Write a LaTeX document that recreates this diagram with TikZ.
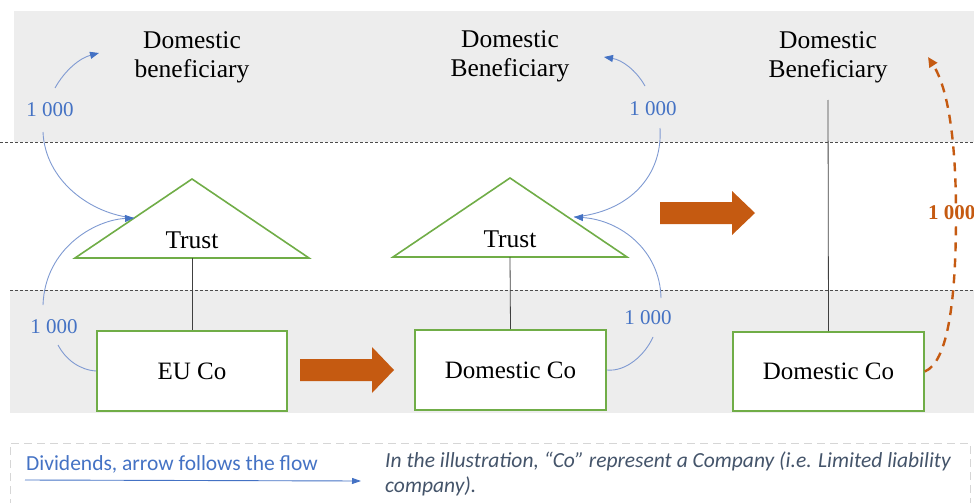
\documentclass[tikz,border=0pt]{standalone}
\usepackage{fontspec}
\setmainfont{Liberation Serif}
\newfontfamily\legendfont{Carlito}
\usetikzlibrary{arrows.meta}
\definecolor{bandgray}{HTML}{EDEDED}
\definecolor{boxgreen}{HTML}{70AD47}
\definecolor{flowblue}{HTML}{4472C4}
\definecolor{curveblue}{HTML}{7F9AD2}
\definecolor{shiftorange}{HTML}{C55A11}
\definecolor{notegray}{HTML}{44546A}
\definecolor{legendgray}{HTML}{D6D6D6}
\tikzset{
  entity/.style={draw=boxgreen,line width=1.6pt,fill=white,minimum width=190pt,minimum height=80pt,
    font=\fontsize{25}{28}\selectfont,inner sep=0pt},
  trustshape/.style={draw=boxgreen,line width=1.6pt,fill=white,line join=miter},
  partylabel/.style={font=\fontsize{25.5}{29}\selectfont,align=center,inner sep=0pt},
  amount/.style={font=\fontsize{21}{24}\selectfont,text=flowblue,inner sep=1pt},
  owner/.style={draw=black!75,line width=0.8pt},
  dividend/.style={draw=curveblue,line width=0.9pt},
  dividendtip/.style={dividend,-{Triangle[length=9pt,width=7pt,color=flowblue]}},
  shiftarrow/.style={fill=shiftorange,draw=none},
  redirect/.style={draw=shiftorange,line width=2.4pt,dash pattern=on 9pt off 7pt,
    -{Triangle[length=10pt,width=9pt]}},
}
\begin{document}
\begin{tikzpicture}[x=1pt,y=-1pt]
\useasboundingbox (0,0) rectangle (974,503);
\clip (0,0) rectangle (974,503);

% horizontal bands
\fill[bandgray] (14,11) rectangle (974,142);
\fill[bandgray] (10,290) rectangle (974,413);
\draw[black!70,line width=0.8pt,dash pattern=on 3pt off 2pt] (0,142) -- (974,142);
\draw[black!70,line width=0.8pt,dash pattern=on 3pt off 2pt] (10,290) -- (974,290);

% beneficiaries
\node[partylabel] (ben1) at (192,57) {Domestic\\beneficiary};
\node[partylabel] (ben2) at (510,56) {Domestic\\Beneficiary};
\node[partylabel] (ben3) at (828,57) {Domestic\\Beneficiary};

% trusts
\draw[trustshape] (75,258) -- (192,179) -- (309,258) -- cycle;
\draw[trustshape] (393,257) -- (510,178) -- (627,257) -- cycle;
\node[partylabel] (trust1) at (192,240) {Trust};
\node[partylabel] (trust2) at (510,239) {Trust};
\coordinate (trust1base) at (192,258);
\coordinate (trust2base) at (510,257);

% companies
\node[entity] (euco) at (192,371) {EU Co};
\node[entity,minimum width=191pt] (domco1) at (510.5,370) {Domestic Co};
\node[entity,minimum width=191pt,minimum height=79pt] (domco2) at (828.5,371.5) {Domestic Co};

% ownership lines
\draw[owner] (trust1base) -- (euco.north);
\draw[owner] (trust2base) -- (domco1.north);
\coordinate (ben3foot) at (828,100);
\draw[owner] (ben3foot) -- (domco2.north);

% restructuring arrows
\path[shiftarrow] (300,359) -- (372,359) -- (372,347) -- (394,370) -- (372,393) -- (372,381) -- (300,381) -- cycle;
\path[shiftarrow] (660,202) -- (732,202) -- (732,191) -- (755,213) -- (732,235) -- (732,224) -- (660,224) -- cycle;

% dividend amounts
\node[amount] (amt1) at (50,110) {1 000};
\node[amount] (amt2) at (653,109) {1 000};
\node[amount] (amt3) at (54,327) {1 000};
\node[amount] (amt4) at (648,318) {1 000};

% dividend flows, left structure
\coordinate (d1a) at (55,88);
\coordinate (d1b) at (99,53);
\coordinate (d2a) at (43,132);
\coordinate (d3a) at (43,305);
\coordinate (d4a) at (58,345);
\coordinate (trust1in) at (134,218);
\draw[dividendtip] (d1a) .. controls (65,70) and (80,58) .. (d1b);
\draw[dividend] (d2a) .. controls (45,180) and (90,214) .. (trust1in);
\draw[dividendtip] (d3a) .. controls (45,248) and (95,220) .. (trust1in);
\draw[dividend] (euco.west) .. controls (80,370) and (66,360) .. (d4a);

% dividend flows, middle structure
\coordinate (e1a) at (645,86);
\coordinate (e1b) at (604,57);
\coordinate (e2a) at (660,128);
\coordinate (e3a) at (661,298);
\coordinate (e4a) at (653,337);
\coordinate (trust2in) at (574,217);
\draw[dividendtip] (e1a) .. controls (636,70) and (622,60) .. (e1b);
\draw[dividend] (e2a) .. controls (663,175) and (630,212) .. (trust2in);
\draw[dividendtip] (e3a) .. controls (660,250) and (620,220) .. (trust2in);
\draw[dividend] (domco1.east) .. controls (626,372) and (645,355) .. (e4a);

% redirected dividend
\coordinate (r1) at (956,215);
\coordinate (r2) at (928,57);
\draw[redirect] (domco2.east) .. controls (948,362) and (956,300) .. (r1)
  .. controls (956,140) and (948,88) .. (r2);
\node[font=\fontsize{21}{24}\selectfont\bfseries,text=shiftorange,fill=white,inner sep=1pt,anchor=west] (amt5) at (927,213) {1 000};

% legend
\draw[legendgray,line width=1pt,dash pattern=on 8pt off 5pt] (10,520) -- (10,443) -- (970,443) -- (970,520);
\node[font=\legendfont\fontsize{21.5}{24}\selectfont,text=flowblue,anchor=west,inner sep=0pt] (legdiv) at (26,464) {Dividends, arrow follows the flow};
\coordinate (legstart) at (25,480);
\coordinate (legend) at (361,481);
\draw[draw=flowblue,line width=0.9pt,-{Triangle[length=9pt,width=6pt]}] (legstart) -- (legend);
\node[font=\legendfont\itshape\fontsize{21.5}{24.5}\selectfont,text=notegray,anchor=north west,align=left,inner sep=0pt] (legnote) at (385,452)
  {In the illustration, “Co” represent a Company (i.e. Limited liability\\company).};
\end{tikzpicture}
\end{document}
